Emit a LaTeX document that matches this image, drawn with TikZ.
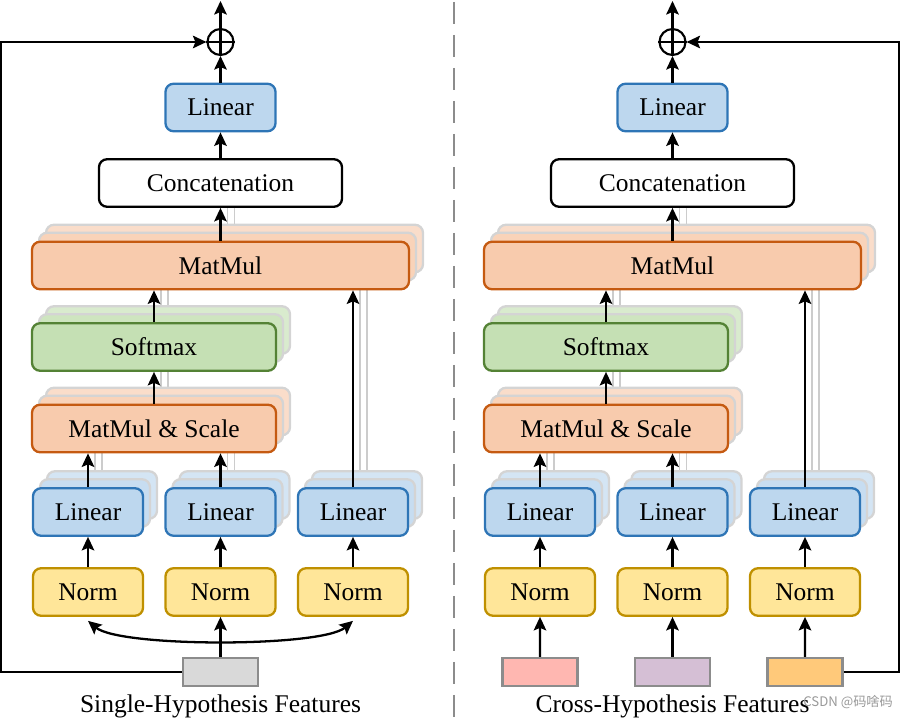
\documentclass[tikz,border=0pt]{standalone}
\usepackage{fontspec}
\setmainfont{Liberation Serif}
\newfontfamily\cjk{Noto Sans CJK SC}
\usetikzlibrary{arrows.meta, calc}
\definecolor{linfill}{HTML}{BDD7EE}
\definecolor{linline}{HTML}{2E75B6}
\definecolor{normfill}{HTML}{FFE699}
\definecolor{normline}{HTML}{BF9000}
\definecolor{mmfill}{HTML}{F8CBAD}
\definecolor{mmline}{HTML}{C55A11}
\definecolor{smfill}{HTML}{C5E0B4}
\definecolor{smline}{HTML}{548235}
\definecolor{ingray}{HTML}{D9D9D9}
\definecolor{inpink}{HTML}{FFB7B1}
\definecolor{inviolet}{HTML}{D5BFD5}
\definecolor{inorange}{HTML}{FFC97A}
\pgfdeclarelayer{faint}
\pgfdeclarelayer{ghost}
\pgfsetlayers{faint,ghost,main}
% two pale copies behind a block
\newcommand{\ghosts}[3]{%
	\begin{pgfonlayer}{ghost}
		\node[ghost, fill=#2!65!white, minimum width=#3] at ($(#1)+(0.28,0.34)$) {};
		\node[ghost, fill=#2!85!white, minimum width=#3] at ($(#1)+(0.14,0.18)$) {};
	\end{pgfonlayer}}
% arrow straight up from one block into the next, with its pale copies
\newcommand{\flowup}[2]{%
	\begin{pgfonlayer}{faint}
		\draw[faint] ($(#1.north)+(0.14,0.18)$) -- ($(#1.north |- #2.south)+(0.14,0.18)$);
		\draw[faint] ($(#1.north)+(0.28,0.34)$) -- ($(#1.north |- #2.south)+(0.28,0.34)$);
	\end{pgfonlayer}
	\draw[arr] (#1.north) -- (#1.north |- #2.south);}

\tikzset{
	box/.style={draw, rounded corners=1.6mm, line width=1.3pt, minimum height=0.95cm, inner sep=0pt, font=\fontsize{14.5}{17}\selectfont},
	linbox/.style={box, fill=linfill, draw=linline, minimum width=2.2cm},
	normbox/.style={box, fill=normfill, draw=normline, minimum width=2.2cm},
	mmbox/.style={box, fill=mmfill, draw=mmline},
	smbox/.style={box, fill=smfill, draw=smline},
	catbox/.style={box, fill=white, draw=black, minimum width=4.86cm},
	ghost/.style={draw=black!17, rounded corners=1.6mm, line width=1.3pt, minimum height=0.95cm, inner sep=0pt},
	inbox/.style={draw=black!45, line width=1.4pt, minimum width=1.5cm, minimum height=0.56cm, inner sep=0pt},
	arr/.style={-{Stealth[length=2.7mm, width=2.5mm, inset=0.5mm]}, line width=1.3pt},
	dblarr/.style={{Stealth[length=2.7mm, width=2.5mm, inset=0.5mm]}-{Stealth[length=2.7mm, width=2.5mm, inset=0.5mm]}, line width=1.3pt},
	faint/.style={draw=black!20, line width=0.8pt},
}

\begin{document}
\begin{tikzpicture}
	\useasboundingbox (0,0) rectangle (18,14.4);
	\foreach \side/\dx/\feat in {a/0/Single-Hypothesis Features, b/9.04/Cross-Hypothesis Features}
	{
		% blocks
		\node[draw, circle, minimum size=5.2mm, inner sep=0pt, line width=1.2pt] (\side-add) at (\dx+4.41, 13.56) {};
		\coordinate (\side-out) at (\dx+4.41, 14.38);
		\node[linbox] (\side-lin) at (\dx+4.41, 12.25) {Linear};
		\node[catbox] (\side-cat) at (\dx+4.41, 10.74) {Concatenation};
		\node[mmbox, minimum width=7.54cm] (\side-mm) at (\dx+4.41, 9.09) {MatMul};
		\node[smbox, minimum width=4.88cm] (\side-sm) at (\dx+3.08, 7.46) {Softmax};
		\node[mmbox, minimum width=4.88cm] (\side-ms) at (\dx+3.08, 5.83) {MatMul \& Scale};
		\node[linbox] (\side-l1) at (\dx+1.76, 4.16) {Linear};
		\node[linbox] (\side-l2) at (\dx+4.41, 4.16) {Linear};
		\node[linbox] (\side-l3) at (\dx+7.06, 4.16) {Linear};
		\node[normbox] (\side-n1) at (\dx+1.76, 2.56) {Norm};
		\node[normbox] (\side-n2) at (\dx+4.41, 2.56) {Norm};
		\node[normbox] (\side-n3) at (\dx+7.06, 2.56) {Norm};
		\node[font=\fontsize{14.5}{17}\selectfont] (\side-feat) at (\dx+4.41, 0.27) {\feat};
		\ghosts{\side-mm}{mmfill}{7.54cm}
		\ghosts{\side-sm}{smfill}{4.88cm}
		\ghosts{\side-ms}{mmfill}{4.88cm}
		\ghosts{\side-l1}{linfill}{2.2cm}
		\ghosts{\side-l2}{linfill}{2.2cm}
		\ghosts{\side-l3}{linfill}{2.2cm}
		% arrows
		\draw[arr] (\side-n1) -- (\side-l1);
		\draw[arr] (\side-n2) -- (\side-l2);
		\draw[arr] (\side-n3) -- (\side-l3);
		\flowup{\side-l1}{\side-ms}
		\flowup{\side-l2}{\side-ms}
		\flowup{\side-l3}{\side-mm}
		\flowup{\side-ms}{\side-sm}
		\flowup{\side-sm}{\side-mm}
		\flowup{\side-mm}{\side-cat}
		\draw[arr] (\side-cat) -- (\side-lin);
		\draw[arr] (\side-lin) -- (\side-add);
		\draw[arr] (\side-add) -- (\side-out);
		\draw[line width=1.2pt] (\side-add.north) -- (\side-add.south) (\side-add.west) -- (\side-add.east);
	}
	% single-hypothesis input
	\node[inbox, fill=ingray] (a-in) at (4.41, 0.96) {};
	\draw[arr] (a-in) -- (a-n2);
	\draw[dblarr] ([yshift=-0.8mm]a-n1.south) to[out=-40, in=-140, looseness=0.4] ([yshift=-0.8mm]a-n3.south);
	\draw[arr] (a-in.west) -- ++(-3.62,0) |- (a-add.west);
	% cross-hypothesis inputs
	\node[inbox, fill=inpink] (b-in1) at (10.80, 0.96) {};
	\node[inbox, fill=inviolet] (b-in2) at (13.45, 0.96) {};
	\node[inbox, fill=inorange] (b-in3) at (16.10, 0.96) {};
	\draw[arr] (b-in1) -- (b-n1);
	\draw[arr] (b-in2) -- (b-n2);
	\draw[arr] (b-in3) -- (b-n3);
	\draw[arr] (b-in3.east) -- ++(1.11,0) |- (b-add.east);
	% divider
	\draw[black!45, line width=1.6pt, dash pattern=on 4.4mm off 2.2mm] (9.08,14.36) -- (9.08,0);
	\node[anchor=east, text=black!40, font=\cjk\fontsize{7.5}{9}\selectfont] (mark) at (17.98, 0.36) {CSDN @码啥码};
\end{tikzpicture}
\end{document}
